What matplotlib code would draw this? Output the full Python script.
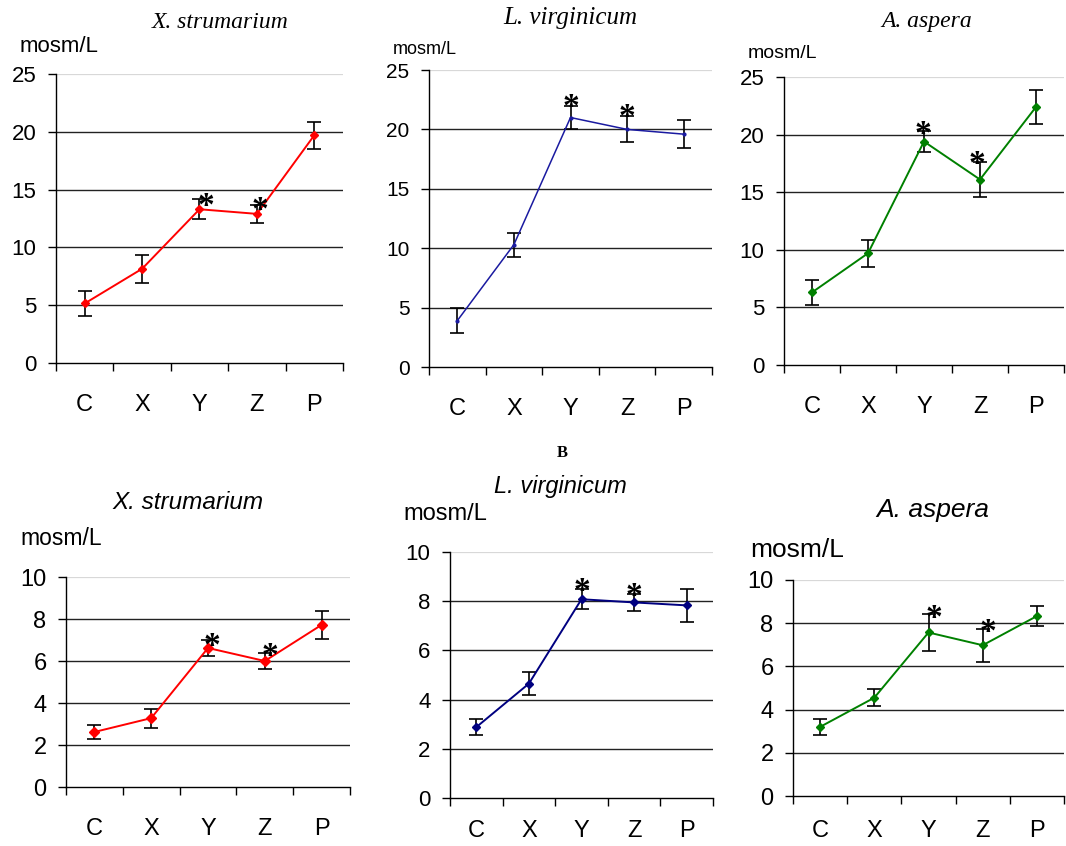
import matplotlib
matplotlib.use("Agg")
from matplotlib import pyplot as plt

plt.rcParams["font.family"] = ["Liberation Sans", "DejaVu Sans"]

categories = ["C", "X", "Y", "Z", "P"]
starred = ["Y", "Z"]

# row A (top), values in mosm/L
xs_a_mean = [5.15, 8.15, 13.3, 12.9, 19.7]
xs_a_err = [1.1, 1.2, 0.85, 0.8, 1.15]
lv_a_mean = [3.9, 10.3, 21.0, 20.0, 19.6]
lv_a_err = [1.05, 1.0, 0.95, 1.1, 1.2]
aa_a_mean = [6.3, 9.7, 19.4, 16.1, 22.4]
aa_a_err = [1.1, 1.15, 0.95, 1.5, 1.45]

# row B (bottom)
xs_b_mean = [2.62, 3.28, 6.62, 6.0, 7.72]
xs_b_err = [0.32, 0.45, 0.4, 0.36, 0.68]
lv_b_mean = [2.88, 4.65, 8.08, 7.95, 7.83]
lv_b_err = [0.32, 0.47, 0.41, 0.36, 0.66]
aa_b_mean = [3.2, 4.55, 7.57, 6.98, 8.33]
aa_b_err = [0.38, 0.4, 0.84, 0.76, 0.48]

W, H = 1066, 846
fig = plt.figure(figsize=(W / 100, H / 100), dpi=100)


def px_axes(x0, y0, x1, y1):
    return fig.add_axes([x0 / W, (H - y1) / H, (x1 - x0) / W, (y1 - y0) / H])


def draw_panel(ax, means, errs, color, marker, msize, ymax, step, lw=1.4,
               ylab_size=16, xlab_size=17, xpad=22, star_dx=(0, 0),
               star_dy=(-9, -9)):
    x = [i + 0.5 for i in range(len(categories))]
    ax.errorbar(x, means, yerr=errs, fmt="none", ecolor="black",
                elinewidth=1.2, capsize=5, capthick=1.2, zorder=3)
    ax.plot(x, means, color=color, lw=lw, marker=marker, ms=msize,
            mec=color, mfc=color, zorder=4)
    k = 0
    for i, c in enumerate(categories):
        if c in starred:
            ax.annotate("*", (x[i], means[i] + errs[i]),
                        xytext=(star_dx[k], star_dy[k]),
                        textcoords="offset points", ha="center",
                        va="baseline", fontsize=24, fontweight="bold",
                        family="Liberation Serif", zorder=5)
            k += 1
    ax.set_xlim(0, len(categories))
    ax.set_ylim(0, ymax)
    ticks = [step * j for j in range(int(ymax / step) + 1)]
    ax.set_yticks(ticks)
    ax.set_yticklabels([str(t) for t in ticks], fontsize=ylab_size)
    for t in ticks[1:]:
        ax.axhline(t, color="#d8d8d8" if t == ymax else "#222222",
                   lw=0.9 if t == ymax else 1.0, zorder=1)
    ax.set_xticks(range(len(categories) + 1))
    ax.set_xticklabels([])
    ax.set_xticks(x, minor=True)
    ax.set_xticklabels(categories, minor=True, fontsize=xlab_size)
    ax.tick_params(axis="x", which="major", direction="out", length=6, width=1)
    ax.tick_params(axis="x", which="minor", length=0, pad=xpad)
    ax.tick_params(axis="y", direction="out", length=6, width=1, pad=8)
    for s in ["top", "right"]:
        ax.spines[s].set_visible(False)
    for s in ["left", "bottom"]:
        ax.spines[s].set_linewidth(1.0)


ax1 = px_axes(56, 74, 343, 363)
draw_panel(ax1, xs_a_mean, xs_a_err, "#ff0000", "D", 4.5, 25, 5,
           star_dx=(5, 2), star_dy=(-11, -10))
ax2 = px_axes(429, 70, 712, 367)
draw_panel(ax2, lv_a_mean, lv_a_err, "#1a1aa0", "o", 2, 25, 5, lw=1.1,
           ylab_size=15, star_dy=(-7, -7))
ax3 = px_axes(784, 77, 1064, 365)
draw_panel(ax3, aa_a_mean, aa_a_err, "#008000", "D", 4.5, 25, 5,
           star_dx=(-1, -2), star_dy=(-9, -8))
ax4 = px_axes(66, 577, 350, 787)
draw_panel(ax4, xs_b_mean, xs_b_err, "#ff0000", "D", 5, 10, 2,
           ylab_size=17, star_dx=(3, 4), star_dy=(-11, -8))
ax5 = px_axes(450, 552, 713, 798)
draw_panel(ax5, lv_b_mean, lv_b_err, "#000080", "D", 4.5, 10, 2,
           ylab_size=16, xpad=16, star_dy=(-8, -8))
ax6 = px_axes(793, 580, 1064, 796)
draw_panel(ax6, aa_b_mean, aa_b_err, "#008000", "D", 4.5, 10, 2,
           ylab_size=17, xpad=17, star_dx=(4, 4), star_dy=(-9, -9))


def fig_text(x, y, s, **kw):
    fig.text(x / W, 1 - y / H, s, **kw)


serif = dict(family="Liberation Serif", style="italic")
fig_text(220, 22, "X. strumarium", ha="center", va="center", fontsize=17, **serif)
fig_text(570, 18, "L. virginicum", ha="center", va="center", fontsize=18, **serif)
fig_text(927, 22, "A. aspera", ha="center", va="center", fontsize=17, **serif)
fig_text(20, 46, "mosm/L", ha="left", va="center", fontsize=16)
fig_text(393, 50, "mosm/L", ha="left", va="center", fontsize=13)
fig_text(748, 54, "mosm/L", ha="left", va="center", fontsize=14)

fig_text(562, 453, "B", ha="center", va="center", fontsize=12,
         family="Liberation Serif", fontweight="bold")
fig_text(188, 502, "X. strumarium", ha="center", va="center", fontsize=17.5,
         style="italic")
fig_text(560, 486, "L. virginicum", ha="center", va="center", fontsize=17,
         style="italic")
fig_text(933, 510, "A. aspera", ha="center", va="center", fontsize=19,
         style="italic")
fig_text(20, 538, "mosm/L", ha="left", va="center", fontsize=16.5)
fig_text(403, 514, "mosm/L", ha="left", va="center", fontsize=17)
fig_text(750, 550, "mosm/L", ha="left", va="center", fontsize=19)

fig.savefig("out.png", dpi=100)
